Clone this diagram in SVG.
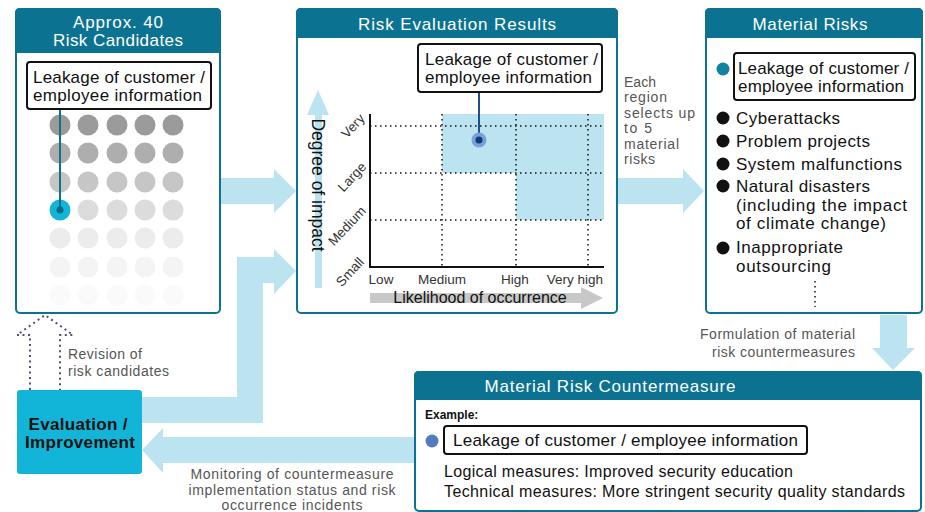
<svg xmlns="http://www.w3.org/2000/svg" width="925" height="512" viewBox="0 0 925 512">
<style>
text{font-family:"Liberation Sans",Arial,sans-serif}
.box{fill:#fff;stroke:#0B7391;stroke-width:2}
.hdr{fill:#0B7391}
.ttl{fill:#fff;font-size:17px;text-anchor:middle}
.txt{fill:#111;font-size:17px}
.ms{fill:#111;font-size:16px}
.note{fill:#555;font-size:14px}
.lbl{fill:#333;font-size:13.5px;text-anchor:middle}
.call{fill:#fff;stroke:#111;stroke-width:2}
.arr{fill:#BCE3F0}
.dot{stroke:#111;stroke-width:1.5;stroke-dasharray:1.5 3.5;fill:none}
</style>

<g id="connectors">
  <polygon class="arr" points="220,178 274,178 274,169 296,191 274,213 274,204 220,204"/>
  <polygon class="arr" points="142,397 237,397 237,257 274,257 274,249 296,271 274,294 274,283 263,283 263,423 142,423"/>
  <polygon class="arr" points="617,178 683,178 683,169 704,191 683,213 683,204 617,204"/>
  <polygon class="arr" points="880,315 907,315 907,348 915,348 893,370 872,348 880,348"/>
  <polygon class="arr" points="415,437 163,437 163,428 142,450 163,473 163,463 415,463"/>
  <polyline points="30,390 30,335 17,335 45,315 73,335 60,335 60,390" fill="none" stroke="#5A4A7A" stroke-width="2" stroke-dasharray="2 3.5"/>
  <text class="note" x="68" y="359" textLength="74">Revision of</text>
  <text class="note" x="68" y="376" textLength="101">risk candidates</text>
  <text class="note" x="624" y="87" textLength="32">Each</text>
  <text class="note" x="624" y="102" textLength="43">region</text>
  <text class="note" x="624" y="118" textLength="71">selects up</text>
  <text class="note" x="624" y="133" textLength="28">to 5</text>
  <text class="note" x="624" y="149" textLength="55">material</text>
  <text class="note" x="624" y="164" textLength="31">risks</text>
  <text class="note" x="855" y="339" text-anchor="end" textLength="155">Formulation of material</text>
  <text class="note" x="855" y="357" text-anchor="end" textLength="143">risk countermeasures</text>
  <text class="note" x="292" y="479" text-anchor="middle" textLength="203">Monitoring of countermeasure</text>
  <text class="note" x="292" y="494.5" text-anchor="middle" textLength="207">implementation status and risk</text>
  <text class="note" x="292" y="510" text-anchor="middle" textLength="141">occurrence incidents</text>
</g>

<g id="risk-candidates">
  <rect class="box" x="16" y="9" width="204" height="304" rx="4"/>
  <path class="hdr" d="M15,53 V13 Q15,8 20,8 H216 Q221,8 221,13 V53 Z"/>
  <text class="ttl" x="118" y="28" textLength="90">Approx. 40</text>
  <text class="ttl" x="118" y="46" textLength="130">Risk Candidates</text>
  <g>
    <g fill="#9B9B9B"><circle cx="60" cy="125" r="10.5"/><circle cx="88" cy="125" r="10.5"/><circle cx="117" cy="125" r="10.5"/><circle cx="145" cy="125" r="10.5"/><circle cx="173" cy="125" r="10.5"/></g>
    <g fill="#AEAEAE"><circle cx="60" cy="153" r="10.5"/><circle cx="88" cy="153" r="10.5"/><circle cx="117" cy="153" r="10.5"/><circle cx="145" cy="153" r="10.5"/><circle cx="173" cy="153" r="10.5"/></g>
    <g fill="#C6C6C6"><circle cx="60" cy="182" r="10.5"/><circle cx="88" cy="182" r="10.5"/><circle cx="117" cy="182" r="10.5"/><circle cx="145" cy="182" r="10.5"/><circle cx="173" cy="182" r="10.5"/></g>
    <g fill="#DCDCDC"><circle cx="88" cy="210" r="10.5"/><circle cx="117" cy="210" r="10.5"/><circle cx="145" cy="210" r="10.5"/><circle cx="173" cy="210" r="10.5"/></g>
    <g fill="#ECECEC"><circle cx="60" cy="238" r="10.5"/><circle cx="88" cy="238" r="10.5"/><circle cx="117" cy="238" r="10.5"/><circle cx="145" cy="238" r="10.5"/><circle cx="173" cy="238" r="10.5"/></g>
    <g fill="#F4F4F4"><circle cx="60" cy="267" r="10.5"/><circle cx="88" cy="267" r="10.5"/><circle cx="117" cy="267" r="10.5"/><circle cx="145" cy="267" r="10.5"/><circle cx="173" cy="267" r="10.5"/></g>
    <g fill="#FAFAFA"><circle cx="60" cy="295" r="10.5"/><circle cx="88" cy="295" r="10.5"/><circle cx="117" cy="295" r="10.5"/><circle cx="145" cy="295" r="10.5"/><circle cx="173" cy="295" r="10.5"/></g>
    <circle cx="60" cy="210" r="10.5" fill="#12B5D7"/>
  </g>
  <line x1="60" y1="109" x2="60" y2="210" stroke="#11708A" stroke-width="2"/>
  <circle cx="60" cy="210" r="3.5" fill="#0B6A85"/>
  <rect class="call" x="27" y="62" width="184" height="47" rx="3"/>
  <text class="txt" x="33" y="83" textLength="172">Leakage of customer /</text>
  <text class="txt" x="33" y="101" textLength="169">employee information</text>
</g>

<g id="risk-evaluation">
  <rect class="box" x="297" y="9" width="320" height="304" rx="4"/>
  <path class="hdr" d="M296,38 V13 Q296,8 301,8 H613 Q618,8 618,13 V38 Z"/>
  <text class="ttl" x="457" y="30" textLength="198">Risk Evaluation Results</text>
  <rect x="442" y="114" width="162" height="59" fill="#BCE3F0"/>
  <rect x="516" y="173" width="88" height="47" fill="#BCE3F0"/>
  <line class="dot" x1="370" y1="126" x2="604" y2="126"/>
  <line class="dot" x1="370" y1="173" x2="604" y2="173"/>
  <line class="dot" x1="370" y1="220" x2="604" y2="220"/>
  <line class="dot" x1="442" y1="114" x2="442" y2="267"/>
  <line class="dot" x1="516" y1="114" x2="516" y2="267"/>
  <line class="dot" x1="588" y1="114" x2="588" y2="267"/>
  <path d="M370,114 V267 H604" fill="none" stroke="#111" stroke-width="2"/>
  <polygon points="315,288 322,288 322,115 329,115 318,90 307,115 315,115" fill="#BCE3F0"/>
  <text fill="#111" font-size="17.5" text-anchor="middle" transform="translate(312,185) rotate(90)">Degree of impact</text>
  <text class="lbl" transform="translate(353,126) rotate(-47)" y="4.5">Very</text>
  <text class="lbl" transform="translate(352,177) rotate(-47)" y="4.5">Large</text>
  <text class="lbl" transform="translate(347,226) rotate(-47)" y="4.5">Medium</text>
  <text class="lbl" transform="translate(350,272) rotate(-47)" y="4.5">Small</text>
  <text class="lbl" x="381" y="284">Low</text>
  <text class="lbl" x="442" y="284">Medium</text>
  <text class="lbl" x="515" y="284">High</text>
  <text class="lbl" x="575" y="284">Very high</text>
  <polygon points="370,293 581,293 581,287 603,298 581,309 581,303 370,303" fill="#C8C8C8"/>
  <text fill="#111" font-size="16" text-anchor="middle" x="480" y="303">Likelihood of occurrence</text>
  <line x1="479" y1="92" x2="479" y2="140" stroke="#1D4F8A" stroke-width="2"/>
  <circle cx="479" cy="140" r="7.5" fill="#7A9ED6"/>
  <circle cx="479" cy="140" r="3.5" fill="#0D3C7A"/>
  <rect class="call" x="418" y="44" width="184" height="48" rx="3"/>
  <text class="txt" x="425" y="65" textLength="173">Leakage of customer /</text>
  <text class="txt" x="425" y="83" textLength="167">employee information</text>
</g>

<g id="material-risks">
  <rect class="box" x="706" y="9" width="216" height="304" rx="4"/>
  <path class="hdr" d="M705,38 V13 Q705,8 710,8 H918 Q923,8 923,13 V38 Z"/>
  <text class="ttl" x="810" y="30" textLength="115">Material Risks</text>
  <circle cx="723" cy="69" r="6.5" fill="#1282A2"/>
  <rect class="call" x="734" y="53" width="181" height="47" rx="3"/>
  <text class="txt" x="738" y="74" textLength="171">Leakage of customer /</text>
  <text class="txt" x="738" y="92" textLength="166">employee information</text>
  <g fill="#111">
    <circle cx="723" cy="118" r="6.5"/>
    <circle cx="723" cy="141" r="6.5"/>
    <circle cx="723" cy="164" r="6.5"/>
    <circle cx="723" cy="186" r="6.5"/>
    <circle cx="723" cy="248" r="6.5"/>
  </g>
  <text class="txt" x="736" y="124" textLength="104">Cyberattacks</text>
  <text class="txt" x="736" y="147" textLength="134">Problem projects</text>
  <text class="txt" x="736" y="170" textLength="166">System malfunctions</text>
  <text class="txt" x="736" y="192" textLength="134">Natural disasters</text>
  <text class="txt" x="736" y="211" textLength="171">(including the impact</text>
  <text class="txt" x="736" y="229" textLength="150">of climate change)</text>
  <text class="txt" x="736" y="253" textLength="107">Inappropriate</text>
  <text class="txt" x="736" y="272" textLength="95">outsourcing</text>
  <line x1="815" y1="281" x2="815" y2="307" stroke="#111" stroke-width="1.5" stroke-dasharray="1.5 3.5"/>
</g>

<g id="countermeasure">
  <rect class="box" x="415" y="372" width="506" height="139" rx="4"/>
  <path class="hdr" d="M414,400 V376 Q414,371 419,371 H917 Q922,371 922,376 V400 Z"/>
  <text class="ttl" x="610" y="392" textLength="251">Material Risk Countermeasure</text>
  <text fill="#111" font-size="12" font-weight="bold" x="425" y="419">Example:</text>
  <circle cx="432" cy="441" r="6.5" fill="#4F7DC0"/>
  <rect class="call" x="444" y="426" width="363" height="28" rx="3"/>
  <text class="txt" x="453" y="446" textLength="345">Leakage of customer / employee information</text>
  <text class="ms" x="444" y="477" textLength="349">Logical measures: Improved security education</text>
  <text class="ms" x="444" y="497" textLength="461">Technical measures: More stringent security quality standards</text>
</g>

<g id="evaluation-improvement">
  <rect x="17" y="390" width="125" height="84" rx="3" fill="#12B5D7"/>
  <text fill="#111" font-size="17" font-weight="bold" text-anchor="middle" x="78" y="430" textLength="99">Evaluation /</text>
  <text fill="#111" font-size="17" font-weight="bold" text-anchor="middle" x="80" y="448" textLength="110">Improvement</text>
</g>
</svg>
